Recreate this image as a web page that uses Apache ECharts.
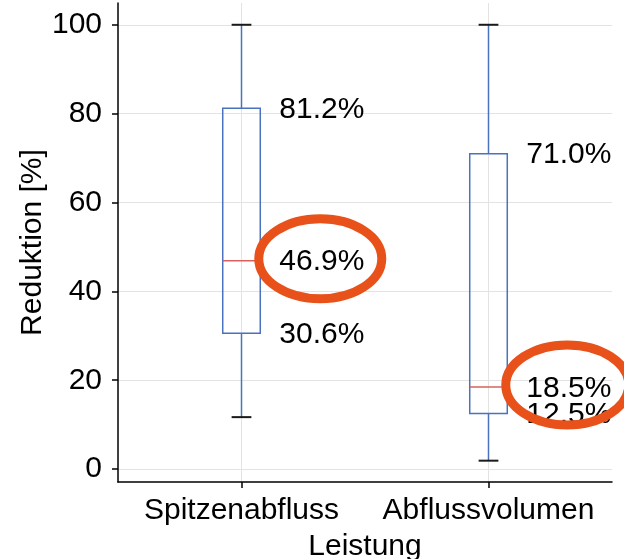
<!DOCTYPE html>
<html><head><meta charset="utf-8">
<script src="https://cdn.jsdelivr.net/npm/echarts@6/dist/echarts.min.js"></script>
<style>html,body{margin:0;padding:0;background:#fff}#c{width:624px;height:559px}</style>
</head><body><div id="c"></div>
<script>
const categories = ['Spitzenabfluss', 'Abflussvolumen'];
const whiskerLow = [11.7, 1.9];
const q1 = [30.6, 12.5];
const median = [46.9, 18.5];
const q3 = [81.2, 71.0];
const whiskerHigh = [100, 100];
const yTicks = [0, 20, 40, 60, 80, 100];
const yMin = -2.9, yMax = 104.9;

const FONT = '"Liberation Sans", Arial, Helvetica, sans-serif';
const FS = 30;
const data = categories.map((c, i) => [i, whiskerLow[i], q1[i], median[i], q3[i], whiskerHigh[i]]);

function renderItem(params, api) {
  const i = api.value(0);
  const lo = api.coord([i, api.value(1)]);
  const b1 = api.coord([i, api.value(2)]);
  const md = api.coord([i, api.value(3)]);
  const b3 = api.coord([i, api.value(4)]);
  const hi = api.coord([i, api.value(5)]);
  const band = api.size([1, 0])[0];
  const cx = lo[0];
  const hw = band * 0.076;
  const cw = band * 0.04;
  const blue = '#4a72bf', red = '#d9605c', black = '#1a1a1a', orange = '#e8521a';
  const right = cx + hw;
  const labelX = right + 19;
  const ls = (c, w) => ({ stroke: c, lineWidth: w, fill: 'none' });
  const children = [
    { type: 'line', shape: { x1: cx, y1: hi[1], x2: cx, y2: b3[1] }, style: ls(blue, 1.5) },
    { type: 'line', shape: { x1: cx, y1: b1[1], x2: cx, y2: lo[1] }, style: ls(blue, 1.5) },
    { type: 'rect', shape: { x: cx - hw, y: b3[1], width: 2 * hw, height: b1[1] - b3[1] }, style: ls(blue, 1.5) },
    { type: 'line', shape: { x1: cx - hw, y1: md[1], x2: right, y2: md[1] }, style: ls(red, 1.5) },
    { type: 'line', shape: { x1: cx - cw, y1: hi[1], x2: cx + cw, y2: hi[1] }, style: ls(black, 2) },
    { type: 'line', shape: { x1: cx - cw, y1: lo[1], x2: cx + cw, y2: lo[1] }, style: ls(black, 2) }
  ];
  [[api.value(4), b3], [api.value(3), md], [api.value(2), b1]].forEach(([v, p]) => {
    children.push({ type: 'text', style: { x: labelX, y: p[1] + 1.5, text: v.toFixed(1) + '%', fill: '#000',
      font: FS + 'px ' + FONT, align: 'left', verticalAlign: 'middle' } });
  });
  children.push({ type: 'ellipse', shape: { cx: right + 60, cy: md[1] - 2, rx: 61.5, ry: 40 },
    style: { stroke: orange, lineWidth: 9, fill: 'none' } });
  return { type: 'group', children };
}

const chart = echarts.init(document.getElementById('c'), null, { renderer: 'canvas' });
const txt = { fontSize: FS, fontFamily: FONT, color: '#000' };
chart.setOption({
  animation: false,
  backgroundColor: '#fff',
  grid: { left: 118, right: 12, top: 3, bottom: 77, containLabel: false, outerBoundsMode: 'none' },
  xAxis: {
    type: 'category', data: categories, boundaryGap: true,
    axisLine: { show: true, onZero: false, lineStyle: { color: '#000', width: 1.5 } },
    axisTick: { show: true, alignWithLabel: true, length: 6, lineStyle: { color: '#000', width: 1.5 } },
    axisLabel: Object.assign({ margin: 14, interval: 0, hideOverlap: false }, txt),
    splitLine: { show: true, alignWithLabel: true, interval: 0, lineStyle: { color: '#e3e3e3', width: 1 } },
    name: 'Leistung', nameLocation: 'middle', nameGap: 50, nameMoveOverlap: false, nameTextStyle: txt
  },
  yAxis: {
    type: 'value', min: yMin, max: yMax,
    axisLine: { show: true, lineStyle: { color: '#000', width: 1.5 } },
    axisTick: { show: true, length: 6, customValues: yTicks, lineStyle: { color: '#000', width: 1.5 } },
    axisLabel: Object.assign({ margin: 16, customValues: yTicks }, txt),
    splitLine: { show: true, lineStyle: { color: '#e3e3e3', width: 1 } },
    name: 'Reduktion [%]', nameLocation: 'middle', nameGap: 70, nameRotate: 90, nameMoveOverlap: false, nameTextStyle: txt
  },
  series: [{
    type: 'custom', renderItem: renderItem, data: data,
    encode: { x: 0, y: [1, 2, 3, 4, 5] }, clip: false, z: 3
  }]
});
</script>
</body></html>
